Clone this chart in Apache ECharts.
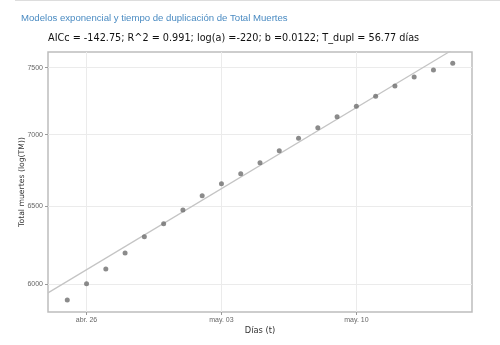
<!DOCTYPE html>
<html><head><meta charset="utf-8">
<script src="https://cdn.jsdelivr.net/npm/echarts@6/dist/echarts.min.js"></script>
<style>html,body{margin:0;padding:0;background:#fff}#c{width:500px;height:345px}</style>
</head><body><div id="c"></div>
<script>
const dates = ['2020-04-25','2020-04-26','2020-04-27','2020-04-28','2020-04-29','2020-04-30','2020-05-01','2020-05-02','2020-05-03','2020-05-04','2020-05-05','2020-05-06','2020-05-07','2020-05-08','2020-05-09','2020-05-10','2020-05-11','2020-05-12','2020-05-13','2020-05-14','2020-05-15'];
const deaths = [5902,6002,6094,6196,6301,6386,6477,6573,6654,6723,6800,6885,6973,7049,7129,7208,7283,7359,7428,7482,7534];
const fitDates = ['2020-04-24','2020-05-16'];
const fitValues = [5946,7732];
const xTickDates = ['2020-04-26','2020-05-03','2020-05-10'];
const xTickLabels = ['abr. 26','may. 03','may. 10'];
const yTicks = [6000,6500,7000,7500];

const DAY = 86400000;
const t0 = Date.parse('2020-04-26');
const dayIdx = d => (Date.parse(d) - t0) / DAY;
const xTickPos = xTickDates.map(dayIdx);

const chart = echarts.init(document.getElementById('c'));
chart.setOption({
  animation:false,
  graphic:[{type:'line',shape:{x1:15,y1:0.5,x2:500,y2:0.5},style:{stroke:'#ddd',lineWidth:1}}],
  title:[
    {text:'Modelos exponencial y tiempo de duplicación de Total Muertes',left:16,top:8,
     textStyle:{fontFamily:'Liberation Sans',fontSize:9.6,fontWeight:'normal',color:'#4a8bc2'}},
    {text:'AICc = -142.75; R^2 = 0.991; log(a) =-220; b =0.0122; T_dupl = 56.77 días',left:43,top:28,
     textStyle:{fontFamily:'DejaVu Sans',fontSize:9.7,fontWeight:'normal',color:'#111'}}
  ],
  grid:{left:48,top:52,right:28,bottom:33,outerBoundsMode:'none',containLabel:false,show:true,borderColor:'#bdbdbd',borderWidth:1.5,backgroundColor:'#fff'},
  xAxis:{type:'value',min:dayIdx('2020-04-24'),max:dayIdx('2020-05-16'),
    name:'Días (t)',nameLocation:'middle',nameGap:15,nameMoveOverlap:false,
    nameTextStyle:{fontFamily:'DejaVu Sans',fontSize:8.3,color:'#333'},
    axisLine:{show:false,onZero:false},
    axisTick:{show:true,length:3,lineStyle:{color:'#999'},customValues:xTickPos},
    axisLabel:{customValues:xTickPos,fontFamily:'Liberation Sans',fontSize:7,color:'#666',margin:5,
      formatter:v=>{const i=xTickPos.indexOf(v);return i>=0?xTickLabels[i]:'';}},
    splitLine:{show:true,lineStyle:{color:'#ebebeb',width:1}}
  },
  yAxis:{type:'log',logBase:10,min:5830,max:7622,
    name:'Total muertes (log(TM))',nameLocation:'middle',nameGap:22,nameMoveOverlap:false,
    nameTextStyle:{fontFamily:'DejaVu Sans',fontSize:7.7,color:'#333'},
    axisLine:{show:false,onZero:false},
    axisTick:{show:true,length:3,lineStyle:{color:'#999'},customValues:yTicks},
    axisLabel:{customValues:yTicks,fontFamily:'Liberation Sans',fontSize:7,color:'#666',margin:5,
      formatter:v=>String(Math.round(v))},
    splitLine:{show:true,lineStyle:{color:'#ebebeb',width:1}}
  },
  series:[
    {type:'line',data:fitDates.map((d,i)=>[dayIdx(d),fitValues[i]]),showSymbol:false,
     lineStyle:{color:'#c4c4c4',width:1.2},clip:true,z:2},
    {type:'scatter',data:dates.map((d,i)=>[dayIdx(d),deaths[i]]),symbolSize:5,
     itemStyle:{color:'#6e6e6e'},z:3}
  ]
});
</script></body></html>
